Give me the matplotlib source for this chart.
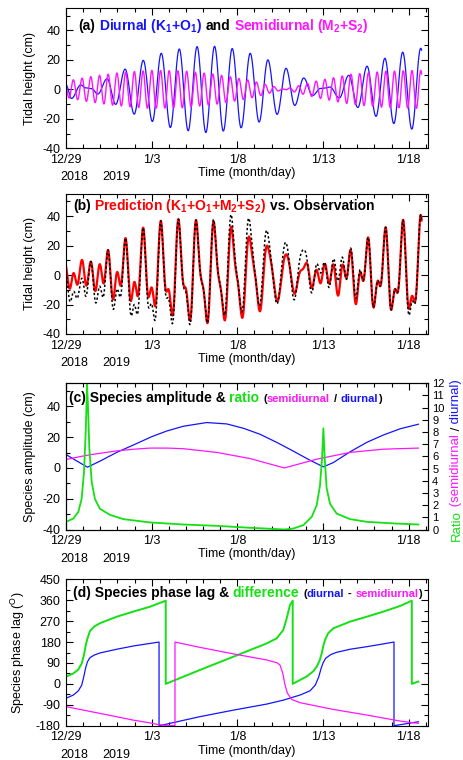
import numpy as np
import matplotlib
matplotlib.use('Agg')
import matplotlib.pyplot as plt
from matplotlib.offsetbox import TextArea, HPacker, AnchoredOffsetbox
from matplotlib.ticker import MultipleLocator

plt.rcParams['font.family'] = ['Liberation Sans', 'DejaVu Sans']
plt.rcParams['mathtext.fontset'] = 'custom'
plt.rcParams['mathtext.rm'] = 'Liberation Sans'
plt.rcParams['mathtext.bf'] = 'Liberation Sans:bold'
plt.rcParams['axes.unicode_minus'] = False
plt.rcParams['font.size'] = 9

BLUE = '#1414ff'
MAG = '#ff14ff'
GREEN = '#14e014'
RED = '#ff0000'

# time axis: days since 12/29 00:00
tick_days = [0, 5, 10, 15, 20]
tick_labels = ['12/29', '1/3', '1/8', '1/13', '1/18']

# (a) turning points of the diurnal (K1+O1) curve
diur_t = [0.00, 0.32, 0.86, 1.15, 1.50, 1.85, 2.40, 2.90, 3.45, 3.98,
          4.51, 5.04, 5.56, 6.09, 6.61, 7.13, 7.65, 8.16, 8.67, 9.18,
          9.70, 10.22, 10.75, 11.27, 11.78, 12.32, 12.84, 13.35, 13.87, 14.39,
          14.85, 15.10, 15.40, 15.95, 16.50, 17.03, 17.57, 18.09, 18.61, 19.13,
          19.65, 20.18, 20.70, 21.22]
diur_v = [3.0, -6.2, 3.0, 1.0, 0.5, -3.2, 7.2, -10.2, 13.7, -16.8,
          19.7, -21.8, 24.5, -25.9, 27.4, -28.1, 29.0, -29.3, 29.2, -28.3,
          27.7, -26.1, 24.5, -22.2, 20.0, -17.0, 14.3, -10.9, 7.7, -4.2,
          0.6, 0.8, 1.6, -5.8, 9.5, -12.3, 15.7, -18.3, 21.1, -23.2,
          25.2, -27.0, 27.9, -28.0]

# (a) turning points of the semidiurnal (M2+S2) curve
semi_t = [-0.08, 0.18,
          0.43, 0.68, 0.94, 1.19, 1.45, 1.70, 1.96, 2.21, 2.46, 2.72,
          2.97, 3.23, 3.48, 3.74, 3.99, 4.24, 4.50, 4.75, 5.01, 5.26,
          5.52, 5.77, 6.02, 6.28, 6.53, 6.79, 7.04, 7.30, 7.55, 7.80,
          8.06, 8.31, 8.57, 8.82, 9.08, 9.33, 9.59, 9.84, 10.09, 10.35,
          10.60, 10.86, 11.11, 11.37, 11.62, 11.87, 12.13, 12.38, 12.64, 12.85,
          13.07, 13.33, 13.58, 13.83, 14.09, 14.34, 14.60, 14.85, 15.11, 15.36,
          15.61, 15.87, 16.12, 16.38, 16.63, 16.89, 17.14, 17.39, 17.65, 17.90,
          18.16, 18.41, 18.67, 18.92, 19.17, 19.43, 19.68, 19.94, 20.19, 20.45,
          20.70, 20.95]
semi_v = [5.5, -5.9,
          6.5, -7.0, 7.6, -8.2, 8.6, -9.0, 9.5, -9.9, 10.3, -10.7,
          11.1, -11.3, 11.6, -11.8, 12.1, -12.3, 12.5, -12.8, 12.9, -12.8,
          12.8, -12.7, 12.7, -12.6, 12.6, -12.5, 12.3, -11.9, 11.6, -11.3,
          11.0, -10.7, 10.4, -10.0, 9.5, -9.0, 8.5, -8.0, 7.4, -6.9,
          6.4, -5.7, 5.0, -4.2, 3.4, -2.6, 1.9, -1.1, 0.3, -0.3,
          1.0, -1.8, 2.5, -3.3, 4.1, -4.8, 5.6, -6.2, 6.8, -7.3,
          7.9, -8.5, 9.1, -9.6, 10.2, -10.4, 10.7, -11.0, 11.3, -11.5,
          11.8, -12.1, 12.3, -12.3, 12.4, -12.5, 12.6, -12.7, 12.8, -12.9,
          12.9, -12.9]

# (b) observation minus prediction, read at its turning points
res_t = [0.00, 0.43, 0.70, 0.95, 1.45, 1.98, 2.45, 3.00, 3.45, 4.03,
         4.50, 5.06, 5.56, 6.07, 6.60, 7.14, 7.65, 8.16, 8.52, 9.05,
         9.53, 10.10, 10.58, 11.10, 11.62, 12.20, 12.78, 13.25, 13.82, 14.25,
         14.83, 15.30, 15.90, 16.40, 16.87, 17.40, 19.60, 20.08, 20.50, 21.00]
res_v = [-4, -12.5, -9, -12.5, 0, -15, 0, -11.5, 0, -15.5,
         0, -11.5, 0, -6.5, 0, -3, 0, 0, 1.5, 0,
         9, 0, 13.5, 0, 11.5, -3, 8.5, -5, 13, -4,
         7, -3, 10, -1, 4, 0, 0, -4.5, 0, 0]

# (c) species amplitudes (cm) and ratio
amp_t = [0, 0.62, 1.25, 1.98, 2.96, 3.93, 5.0, 5.88, 6.85, 8.21, 9.38, 10.35,
         11.32, 12.3, 13.27, 14.24, 15.02, 15.6, 16.58, 17.55, 18.52, 19.49, 20.56]
diur_amp = [8.7, 4.6, 0.5, 4.4, 10.1, 14.9, 20.3, 24.0, 27.1, 29.5, 28.6, 25.8,
            21.9, 16.6, 10.9, 5.0, 0.7, 3.5, 10.5, 16.6, 21.4, 25.4, 28.4]
semi_amp_t = [0, 1.25, 2.96, 4.0, 4.9, 5.9, 6.85, 8.8, 10.74, 12.74,
              14.63, 16.58, 18.52, 20.56]
semi_amp = [5.5, 8.3, 11.1, 12.2, 12.9, 12.9, 12.5, 10.1, 6.1, 0.0,
            5.7, 10.1, 12.2, 12.9]
ratio_t = [0, 0.43, 0.72, 0.91, 1.05, 1.15, 1.23, 1.28, 1.36, 1.5,
           1.69, 1.98, 2.57, 3.35, 4.9, 6.85, 8.8, 10.74, 12.1, 12.74,
           13.27, 13.85, 14.34, 14.63, 14.82, 14.94, 15.02, 15.1, 15.21, 15.41,
           15.8, 16.58, 17.55, 19.1, 20.56]
ratio = [0.63, 0.9, 1.45, 2.5, 4.7, 8.0, 11.9, 10.2, 6.7, 3.9,
         2.5, 1.7, 1.2, 0.85, 0.58, 0.41, 0.3, 0.14, 0.05, 0.0,
         0.08, 0.36, 1.04, 2.0, 3.6, 5.8, 8.3, 5.8, 3.4, 2.1,
         1.3, 0.85, 0.63, 0.5, 0.41]

# (d) species phase lags and difference (degrees)
dph_t = [0.00, 0.43, 0.72, 0.92, 1.05, 1.15, 1.25, 1.40, 1.65, 1.98, 2.96, 3.93,
         4.90, 5.43, 5.43, 5.88, 7.82, 9.77, 11.71, 12.68, 13.66, 14.24, 14.55,
         14.75, 14.88, 15.00, 15.15, 15.45, 15.80, 16.58, 17.55, 18.52, 19.14,
         19.14, 20.56]
dph = [-62, -48, -30, -5, 35, 70, 95, 113, 124, 133, 149, 163,
       174, 180, -180, -173, -141, -113, -87, -70, -48, -30, -5,
       30, 65, 90, 110, 126, 136, 149, 160, 172, 180,
       -180, -163]
sph_t = [0.00, 1.98, 3.93, 4.90, 5.43, 5.90, 6.36, 6.36, 7.82, 9.77, 11.71,
         12.30, 12.49, 12.65, 12.78, 12.92, 13.17, 13.66, 15.60, 17.55, 19.49,
         20.56]
sph = [-98, -127, -156, -168, -176, -179, -180, 180, 157, 129, 103,
       91, 81, 45, -4, -40, -67, -81, -110, -134, -160,
       -170]
diff_t = [0.00, 0.43, 0.72, 0.92, 1.05, 1.15, 1.25, 1.40, 1.65, 1.98, 2.96,
          3.93, 4.90, 5.82, 5.82, 7.82, 9.77, 11.71, 12.30, 12.68, 12.88,
          13.07, 13.23, 13.23, 14.05, 14.44, 14.63, 14.80, 14.92, 15.02, 15.12,
          15.30, 15.60, 16.58, 17.55, 18.52, 19.49, 20.18, 20.18, 20.56]
diff = [31, 45, 62, 88, 125, 165, 195, 228, 247, 261, 289,
        311, 332, 358, 0, 60, 117, 174, 196, 232, 282,
        339, 358, 0, 32, 55, 74, 100, 130, 165, 190,
        218, 239, 268, 289, 311, 335, 358, 0, 10]


def smooth(te, ve, tt):
    # tidal curve drawn as half-cosine arcs between the read turning points
    te = np.asarray(te, float)
    ve = np.asarray(ve, float)
    i = np.clip(np.searchsorted(te, tt, side='right') - 1, 0, len(te) - 2)
    s = np.clip((tt - te[i]) / (te[i + 1] - te[i]), 0, 1)
    return ve[i] + (ve[i + 1] - ve[i]) * (1 - np.cos(np.pi * s)) / 2


t = np.arange(0, 20.755, 0.01)
diurnal = smooth(diur_t, diur_v, t)
semidiurnal = smooth(semi_t, semi_v, t)
prediction = diurnal + semidiurnal
observation = prediction + smooth(res_t, res_v, t)


def style(ax, ylo, yhi, ymaj, ymin, right=True):
    ax.set_xlim(0, 21.125)
    ax.set_ylim(ylo, yhi)
    ax.set_xticks(tick_days)
    ax.set_xticklabels(tick_labels)
    ax.xaxis.set_minor_locator(MultipleLocator(1))
    ax.yaxis.set_major_locator(MultipleLocator(ymaj))
    ax.yaxis.set_minor_locator(MultipleLocator(ymin))
    ax.tick_params(which='both', direction='in', top=True, right=right,
                   labelsize=9, pad=4, width=0.8)
    ax.tick_params(which='major', length=5)
    ax.tick_params(which='minor', length=2.8)
    for sp in ax.spines.values():
        sp.set_linewidth(0.8)
    ax.set_xlabel('Time (month/day)', fontsize=9, labelpad=1)
    ax.annotate('2018', xy=(0, 0), xycoords='axes fraction', xytext=(-6, -29),
                textcoords='offset pixels', ha='left', va='center', fontsize=9)
    ax.annotate('2019', xy=(0, 0), xycoords='axes fraction', xytext=(36, -29),
                textcoords='offset pixels', ha='left', va='center', fontsize=9)


def title(ax, groups, x, y):
    boxes = []
    for g in groups:
        tas = [TextArea(s, textprops=dict(color=c, fontsize=fs, fontweight='bold'))
               for s, c, fs in g]
        boxes.append(HPacker(children=tas, align='baseline', pad=0, sep=0))
    box = HPacker(children=boxes, align='baseline', pad=0, sep=2.7)
    ab = AnchoredOffsetbox(loc='center left', child=box, pad=0, borderpad=0,
                           frameon=False, bbox_to_anchor=(x, y),
                           bbox_transform=ax.transAxes)
    ax.add_artist(ab)


fig = plt.figure(figsize=(4.63, 7.6), dpi=100)


def add(top, bottom):
    return fig.add_axes([66 / 463, 1 - bottom / 760, 362 / 463, (bottom - top) / 760])


ax_a = add(8.3, 148.3)
ax_b = add(194, 334)
ax_c = add(383.3, 529.5)
ax_d = add(579.3, 725.7)

# (a)
ax_a.plot(t, diurnal, color=BLUE, lw=0.9)
ax_a.plot(t, semidiurnal, color=MAG, lw=1.0)
style(ax_a, -40, 55, 20, 10)
ax_a.set_ylabel('Tidal height (cm)', fontsize=9)
ax_a.yaxis.set_label_coords(-0.084, 0.5)
title(ax_a, [[('(a)', 'k', 10)],
             [('Diurnal (K$_\\mathbf{1}$+O$_\\mathbf{1}$)', BLUE, 10)],
             [('and', 'k', 10)],
             [('Semidiurnal (M$_\\mathbf{2}$+S$_\\mathbf{2}$)', MAG, 10)]],
      0.033, 0.874)

# (b)
ax_b.plot(t, prediction, color=RED, lw=1.6)
ax_b.plot(t, observation, color='k', lw=1.1, ls=(0, (1.5, 1.5)))
style(ax_b, -40, 55, 20, 10)
ax_b.set_ylabel('Tidal height (cm)', fontsize=9)
ax_b.yaxis.set_label_coords(-0.084, 0.5)
title(ax_b, [[('(b)', 'k', 10)],
             [('Prediction (K$_\\mathbf{1}$+O$_\\mathbf{1}$+M$_\\mathbf{2}$+S$_\\mathbf{2}$)', RED, 10)],
             [('vs. Observation', 'k', 10)]],
      0.019, 0.916)

# (c)
ax_c.plot(amp_t, diur_amp, color=BLUE, lw=0.9)
ax_c.plot(semi_amp_t, semi_amp, color=MAG, lw=0.9)
style(ax_c, -40, 55, 20, 10, right=False)
ax_c.set_ylabel('Species amplitude (cm)', fontsize=9)
ax_c.yaxis.set_label_coords(-0.084, 0.5)
ax_r = ax_c.twinx()
ax_r.plot(ratio_t, ratio, color=GREEN, lw=1.3)
ax_r.set_ylim(0, 12)
ax_r.set_yticks(range(0, 13))
ax_r.tick_params(direction='in', labelsize=8, length=4, width=0.8, pad=3)
title(ax_c, [[('(c) Species amplitude &', 'k', 10)],
             [('ratio', GREEN, 10)],
             [('(', 'k', 8), ('semidiurnal', MAG, 8)],
             [('/', 'k', 8)],
             [('diurnal', BLUE, 8), (')', 'k', 8)]],
      0.008, 0.901)

# right-hand label of (c), one colour per word, stacked bottom to top
txt = fig.text(456.5 / 463, 1 - 541 / 760, 'Ratio', color=GREEN, fontsize=9.5,
               rotation=90, ha='center', va='bottom')
for s, c in [(' (semidiurnal', MAG), (' /', 'k'), (' diurnal)', BLUE)]:
    txt = ax_c.annotate(s, xy=(0.5, 1), xycoords=txt, ha='center', va='bottom',
                        rotation=90, color=c, fontsize=9.5, annotation_clip=False)

# (d)
ax_d.plot(diff_t, diff, color=GREEN, lw=1.4)
ax_d.plot(dph_t, dph, color=BLUE, lw=0.9)
ax_d.plot(sph_t, sph, color=MAG, lw=0.9)
style(ax_d, -180, 450, 90, 45)
ax_d.set_ylabel('Species phase lag ($^{\\rm O}$)', fontsize=9)
ax_d.yaxis.set_label_coords(-0.108, 0.5)
title(ax_d, [[('(d) Species phase lag &', 'k', 10)],
             [('difference', GREEN, 10)],
             [('(', 'k', 8), ('diurnal', BLUE, 8)],
             [('-', 'k', 8)],
             [('semidiurnal', MAG, 8), (')', 'k', 8)]],
      0.019, 0.906)

fig.savefig('out.png', dpi=100)
